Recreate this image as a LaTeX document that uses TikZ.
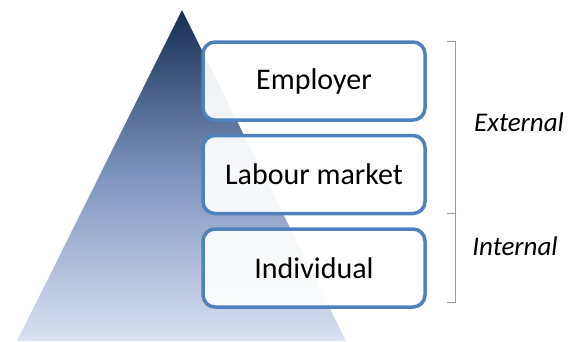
\documentclass[tikz,border=0pt]{standalone}
\usepackage{fontspec}
\setmainfont{Carlito}
\usetikzlibrary{positioning}
\definecolor{boxblue}{RGB}{79,129,189}
\definecolor{topnavy}{RGB}{22,45,82}
\definecolor{midblue}{RGB}{125,148,190}
\definecolor{baseblue}{RGB}{218,225,242}
\definecolor{bracketgray}{RGB}{140,158,182}
\tikzset{level/.style={draw=boxblue,line width=3.5pt,rounded corners=12pt,fill=white,fill opacity=0.93,text opacity=1,minimum width=222pt,minimum height=78pt,font=\fontsize{30}{34}\selectfont}}
\tikzset{side/.style={font=\fontsize{27}{30}\selectfont\itshape}}

\begin{document}
\begin{tikzpicture}[
                x = 1pt, y = -1pt
            ]
                \useasboundingbox (0,0) rectangle (577,341);
                \shade[top color=topnavy, bottom color=baseblue, middle color=midblue] (182,10) -- (346,341) -- (17,341) -- cycle;
                \node[level](employer) at (314,81) {Employer};
                \node[level, below= 12pt of employer] (market) {Labour market};
                \node[level, below= 12pt of market] (individual) {Individual};

                \coordinate (btop) at (447,41);
                \coordinate (bmid) at (447,213);
                \coordinate (bbot) at (447,302);
                \draw[bracketgray, line width=1pt] (btop) -- ++(8,0) |- (bbot);
                \draw[bracketgray, line width=1pt] (bmid) -- ++(8,0);
                \node[side] (external) at (519,122) {External};
                \node[side] (internal) at (515,246) {Internal};
            \end{tikzpicture}
\end{document}
